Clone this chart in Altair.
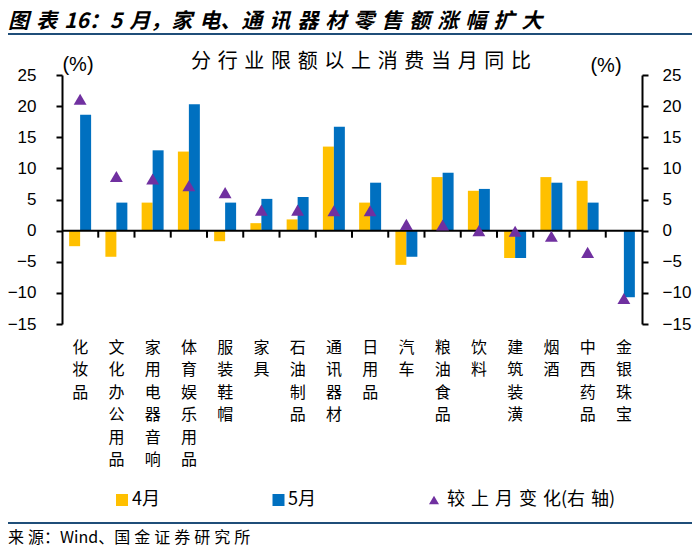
import altair as alt
import pandas as pd

categories = ["化妆品", "文化办公用品", "家用电器音响", "体育娱乐用品", "服装鞋帽", "家具",
              "石油制品", "通讯器材", "日用品", "汽车", "粮油食品", "饮料", "建筑装潢",
              "烟酒", "中西药品", "金银珠宝"]
apr_vals = [-2.5, -4.2, 4.5, 12.7, -1.7, 1.2, 1.8, 13.5, 4.5, -5.5, 8.6, 6.4, -4.4, 8.6, 8.0, 0.0]
may_vals = [18.6, 4.5, 12.9, 20.3, 4.5, 5.1, 5.4, 16.7, 7.7, -4.2, 9.3, 6.7, -4.4, 7.7, 4.5, -10.7]
chg_vals = [21.1, 8.7, 8.3, 7.2, 6.1, 3.3, 3.3, 3.2, 3.2, 1.0, 0.9, 0.0, -0.1, -0.9, -3.5, -10.9]
series_names = ["4月", "5月"]
series_colors = ["#FFC000", "#0070C0"]
tri_color = "#7030A0"
tick_values = [-15, -10, -5, 0, 5, 10, 15, 20, 25]

TITLE = "图表16：5月，家电、通讯器材零售额涨幅扩大"
SUBTITLE = "分行业限额以上消费当月同比"
LEGEND3 = "较上月变化(右轴)"
SOURCE = "来源：Wind、国金证券研究所"

CJK = "Noto Sans CJK SC"
NUM = "Liberation Sans"

W, H = 580, 249
PAD_L, PAD_T = 54, 67
PAD_R = 684 - PAD_L - W
PAD_B = 540 - PAD_T - H
Y_DOMAIN = [-15, 25]
zero_px = H * Y_DOMAIN[1] / (Y_DOMAIN[1] - Y_DOMAIN[0])


def rx(px):
    return px - 62


def ry(py):
    return py - 75


NO_SPACE = set("()：，、")


def spaced(s, sp="\u2004"):
    out = ""
    for i, ch in enumerate(s):
        out += ch
        if i < len(s) - 1:
            nxt = s[i + 1]
            if ch.isascii() and nxt.isascii():
                continue
            if nxt in NO_SPACE or ch in NO_SPACE:
                continue
            out += sp
    return out


bars_df = pd.DataFrame({
    "cat": categories * 2,
    "series": [series_names[0]] * len(categories) + [series_names[1]] * len(categories),
    "value": apr_vals + may_vals,
})
chg_df = pd.DataFrame({"cat": categories, "chg": chg_vals})
bound_df = pd.DataFrame({"cat": categories[1:]})

xscale = alt.Scale(domain=categories, paddingInner=0, paddingOuter=0)
xaxis = alt.Axis(title=None, domain=False, ticks=False, labelAngle=0,
                 labelExpr="split(datum.label, '')", labelBaseline="top",
                 labelLineHeight=22.5, labelFontSize=16, labelFont=CJK,
                 labelColor="black", labelPadding=15, labelOverlap=False,
                 labelAlign="center")
xenc = alt.X("cat:N", scale=xscale, axis=xaxis, sort=categories)

yscale = alt.Scale(domain=Y_DOMAIN, nice=False, zero=False)
left_axis = alt.Axis(values=tick_values, title=None, grid=False, domain=True, domainColor="#000000",
                     domainWidth=2, ticks=True, tickColor="#000000", tickWidth=2, tickSize=6,
                     labelFontSize=17, labelFont=NUM, labelColor="black", labelOverlap=False,
                     labelPadding=20, orient="left")
right_axis = alt.Axis(values=tick_values, title=None, grid=False, domain=True, domainColor="#000000",
                      domainWidth=2, ticks=True, tickColor="#000000", tickWidth=2, tickSize=6,
                      labelFontSize=17, labelFont=NUM, labelColor="black", labelOverlap=False,
                      labelPadding=14, orient="right", labelAlign="left")

bars = alt.Chart(bars_df).mark_bar().encode(
    x=xenc,
    xOffset=alt.XOffset("series:N", sort=series_names,
                        scale=alt.Scale(domain=series_names, paddingInner=0, paddingOuter=0.65)),
    y=alt.Y("value:Q", scale=yscale, axis=left_axis),
    color=alt.Color("series:N", scale=alt.Scale(domain=series_names, range=series_colors), legend=None),
)

zero_line = alt.Chart(pd.DataFrame({"a": [0]})).mark_rule(color="black", strokeWidth=2).encode(
    x=alt.value(0), x2=alt.value(W), y=alt.value(zero_px)
)
bound_ticks = alt.Chart(bound_df).mark_rule(color="black", strokeWidth=2).encode(
    x=alt.X("cat:N", scale=xscale, axis=xaxis, sort=categories, bandPosition=0),
    y=alt.value(zero_px),
    y2=alt.value(zero_px + 7),
)

left_group = alt.layer(bars, zero_line, bound_ticks)

tris = alt.Chart(chg_df).mark_point(shape="triangle-up", filled=True, size=165,
                                    color=tri_color, opacity=1).encode(
    x=xenc,
    y=alt.Y("chg:Q", scale=yscale, axis=right_axis),
)

main = alt.layer(left_group, tris).resolve_scale(y="independent")


def text_layer(txt, x, y, size, font=CJK, align="left", weight="normal", style="normal",
               color="black"):
    return alt.Chart(pd.DataFrame({"t": [txt]})).mark_text(
        align=align, baseline="middle", fontSize=size, font=font, fontWeight=weight,
        fontStyle=style, color=color,
    ).encode(text="t:N", x=alt.value(x), y=alt.value(y))


def hline(y, x1, x2, color="#1F4E79", width=2):
    return alt.Chart(pd.DataFrame({"a": [0]})).mark_rule(color=color, strokeWidth=width).encode(
        x=alt.value(x1), x2=alt.value(x2), y=alt.value(y)
    )


def sym(shape, color, x, y, size):
    return alt.Chart(pd.DataFrame({"a": [0]})).mark_point(
        shape=shape, filled=True, color=color, size=size, opacity=1
    ).encode(x=alt.value(x), y=alt.value(y))


decor = [
    text_layer(spaced(TITLE), rx(8), ry(22), 21, weight="bold", style="italic"),
    hline(ry(34), rx(8), rx(692)),
    text_layer(spaced(SUBTITLE), rx(361), ry(62), 20, align="center"),
    text_layer("(%)", rx(78), ry(65), 20, font=NUM, align="center"),
    text_layer("(%)", rx(606), ry(66), 20, font=NUM, align="center"),
    sym("square", series_colors[0], rx(122), ry(500), 144),
    text_layer(series_names[0], rx(132), ry(500), 18),
    sym("square", series_colors[1], rx(278.5), ry(500), 144),
    text_layer(series_names[1], rx(288), ry(500), 18),
    sym("triangle-up", tri_color, rx(434), ry(500), 100),
    text_layer(spaced(LEGEND3), rx(447), ry(500), 18),
    hline(ry(523), rx(8), rx(692)),
    text_layer(spaced(SOURCE, "\u2005"), rx(8), ry(538), 16),
]

chart = alt.layer(main, *decor).properties(
    width=W, height=H,
    autosize=alt.AutoSizeParams(type="none"),
    padding={"left": PAD_L, "top": PAD_T, "right": PAD_R, "bottom": PAD_B},
).configure_view(strokeWidth=0)

chart.save("out.html", embed_options={"renderer": "svg", "actions": False})
